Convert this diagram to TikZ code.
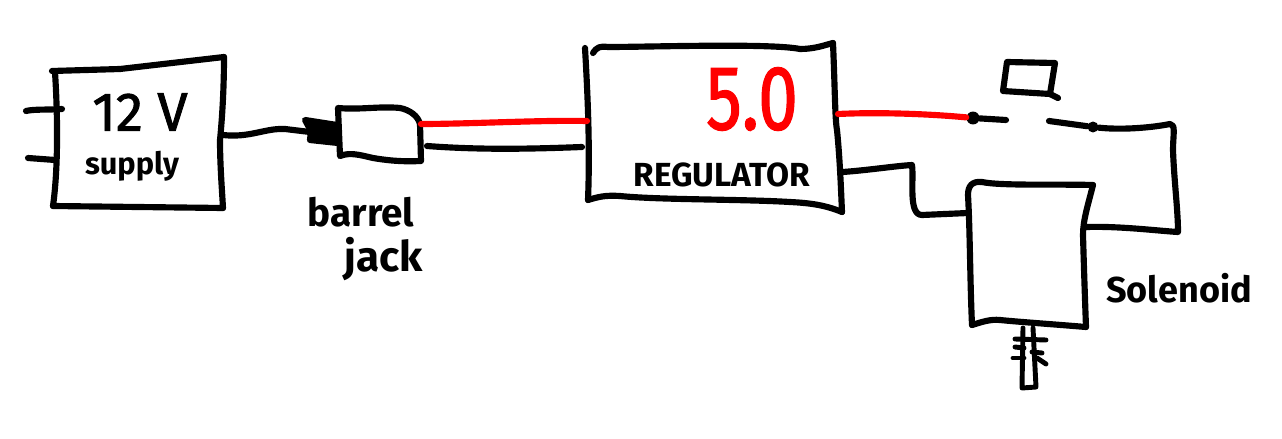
\documentclass[tikz,border=0pt]{standalone}
\usepackage{fontspec}
\setmainfont{Fira Sans}
\newfontfamily\heavyfont[FakeBold=1.6]{Fira Sans}
\usetikzlibrary{positioning}
\definecolor{wirered}{RGB}{255,0,0}
\begin{document}
\begin{tikzpicture}[
  x=0.02cm, y=-0.02cm,
  pen/.style={draw=black, line width=3.5pt, line cap=round, line join=round},
  thinpen/.style={pen, line width=2.8pt},
  redpen/.style={pen, draw=wirered},
  lab/.style={font=\bfseries\fontsize{#1}{#1}\selectfont, inner sep=0pt, text=black},
  biglab/.style={font=\heavyfont\fontsize{#1}{#1}\selectfont, inner sep=0pt, text=black},
  dot/.style={fill=black, circle, inner sep=0pt, minimum size=#1}
]
\useasboundingbox (0,0) rectangle (1282,439);

%--------------------------------------------------------------
% 12 V supply
%--------------------------------------------------------------
\draw[pen] (52,71) -- (120,69) -- (224,57);
\draw[pen] (224,57) .. controls (224,90) and (222,120) .. (220,140) .. controls (220,165) and (222,190) .. (223,208);
\draw[pen] (223,208) -- (53,206);
\draw[pen] (53,206) .. controls (58,170) and (58,120) .. (55,72);
\draw[pen] (26,111) .. controls (34,109) and (48,110) .. (62,109);
\draw[pen] (28,158) -- (55,160);
\node[biglab=31pt] (lTwelve) at (140,112) {12 V};
\node[lab=17.5pt] (lSupply) at (132,166) {supply};
\coordinate (supOut) at (223,135);

%--------------------------------------------------------------
% Barrel jack
%--------------------------------------------------------------
\filldraw[pen] (305,120) -- (337,125) -- (338,143) -- (310,140) -- (311,131) -- cycle;
\draw[pen] (338,108) .. controls (360,110) and (380,106) .. (400,108)
  .. controls (410,110) and (418,116) .. (420,124) -- (421,161)
  .. controls (400,162) and (385,160) .. (373,158)
  .. controls (360,155) and (350,152) .. (340,156) -- cycle;
\coordinate (jackIn) at (310,132);
\coordinate (jackPos) at (421,124);
\coordinate (jackNeg) at (427,146);
\node[lab=22pt] (lBarrel) at (361,212) {barrel};
\node[lab=24pt] (lJack) at (384,259) {jack};

%--------------------------------------------------------------
% Regulator
%--------------------------------------------------------------
\draw[pen] (585,48) .. controls (588,100) and (590,150) .. (588,200);
\draw[pen] (593,53) .. controls (597,47) and (600,46) .. (608,47)
  .. controls (650,47) and (770,43) .. (800,49) .. controls (815,49) and (825,45) .. (833,43);
\draw[pen] (833,43) .. controls (835,90) and (835,120) .. (837,130) .. controls (840,160) and (841,190) .. (842,212);
\draw[pen] (842,212) .. controls (825,205) and (810,203) .. (790,202)
  .. controls (740,199) and (660,200) .. (620,196) .. controls (605,195) and (598,197) .. (588,200);
\node[lab=19pt] (lReg) at (722,175) {REGULATOR};
\node[biglab=52pt, text=wirered, xscale=0.78, transform shape] (lVolt) at (752,99) {5.0};
\coordinate (regPosIn) at (587,121);
\coordinate (regNegIn) at (582,147);
\coordinate (regPosOut) at (838,114);
\coordinate (regNegOut) at (843,172);

%--------------------------------------------------------------
% Push button
%--------------------------------------------------------------
\draw[pen] (1007,62) -- (1055,63) -- (1050,94) -- (1003,91) -- cycle;
\draw[pen] (1050,94) -- (1058,98);
\node[dot=0.26cm] (swL) at (973,118) {};
\node[dot=0.22cm] (swR) at (1093,127) {};
\draw[pen] (swL) -- (1006,120);
\draw[pen] (1049,121) -- (swR);

%--------------------------------------------------------------
% Solenoid
%--------------------------------------------------------------
\draw[pen] (1086,327) .. controls (1050,324) and (1020,322) .. (1000,320)
  .. controls (990,319) and (982,322) .. (972,325);
\draw[pen] (972,325) .. controls (970,280) and (970,230) .. (968,195)
  .. controls (968,186) and (972,181) .. (982,182)
  .. controls (1000,186) and (1060,184) .. (1093,185);
\draw[pen] (1093,185) .. controls (1088,205) and (1083,220) .. (1083,235)
  .. controls (1084,270) and (1085,300) .. (1086,327);
\node[lab=20.5pt] (lSol) at (1179,288) {Solenoid};
\coordinate (solA) at (968,213);
\coordinate (solB) at (1087,227);

% plunger
\draw[thinpen] (1023,328) -- (1022,388) -- (1036,387) -- (1033,328);
\foreach \xa/\ya/\xb/\yb in {1015/339/1046/340, 1015/347/1024/348, 1013/358/1024/358,
                             1032/352/1042/353, 1037/358/1046/364}{
  \draw[thinpen] (\xa,\ya) -- (\xb,\yb);
}

%--------------------------------------------------------------
% Wires
%--------------------------------------------------------------
\draw[pen] (supOut) .. controls (250,138) and (265,128) .. (285,129) -- (jackIn);
\draw[redpen] (jackPos) .. controls (470,124) and (540,120) .. (regPosIn);
\draw[pen] (jackNeg) .. controls (480,150) and (530,149) .. (regNegIn);
\draw[redpen] (regPosOut) .. controls (880,112) and (930,114) .. (swL);
\draw[pen] (regNegOut) .. controls (870,170) and (895,166) .. (912,165)
  .. controls (914,180) and (908,215) .. (922,215) -- (solA);
\draw[pen] (swR) .. controls (1120,130) and (1150,128) .. (1170,124)
  .. controls (1176,124) and (1173,135) .. (1173,150)
  .. controls (1174,180) and (1178,210) .. (1178,232)
  .. controls (1160,231) and (1120,226) .. (solB);

\end{tikzpicture}
\end{document}
